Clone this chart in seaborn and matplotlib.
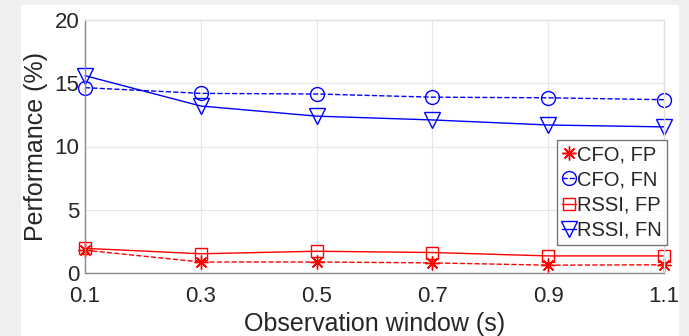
import matplotlib
matplotlib.use("Agg")
import matplotlib.pyplot as plt
import seaborn as sns
import pandas as pd
from matplotlib.patches import Rectangle

window = [0.1, 0.3, 0.5, 0.7, 0.9, 1.1]
cfo_fp = [1.8, 0.87, 0.87, 0.8, 0.62, 0.65]
cfo_fn = [14.65, 14.2, 14.15, 13.9, 13.85, 13.7]
rssi_fp = [1.95, 1.52, 1.72, 1.62, 1.35, 1.35]
rssi_fn = [15.6, 13.2, 12.4, 12.1, 11.7, 11.55]
x_ticks = [0.1, 0.3, 0.5, 0.7, 0.9, 1.1]
y_ticks = [0, 5, 10, 15, 20]

sns.set_theme(style="white")
plt.rcParams['font.family'] = ['Liberation Sans', 'DejaVu Sans']

fig = plt.figure(figsize=(6.89, 3.36), dpi=100)
fig.patch.set_facecolor('#eef0f0')
bg = Rectangle((21 / 689, 0), (679 - 21) / 689, (336 - 5) / 336,
               transform=fig.transFigure, facecolor='white',
               edgecolor='none', zorder=-10)
fig.patches.append(bg)
ax = fig.add_axes([85 / 689, (336 - 273) / 336, (664 - 85) / 689, (273 - 20) / 336])
ax.set_zorder(5)
ax.set_facecolor('white')

asterisk = (8, 2, 0)
series = [
    ("CFO, FP", cfo_fp, '#ff0000', asterisk, '--', 10),
    ("CFO, FN", cfo_fn, '#0000ff', 'o', '--', 10),
    ("RSSI, FP", rssi_fp, '#ff0000', 's', '-', 8),
    ("RSSI, FN", rssi_fn, '#0000ff', 'v', '-', 11),
]
for name, vals, col, mk, ls, ms in series:
    df = pd.DataFrame({"x": window, "y": vals})
    kw = {}
    if ls == '--':
        kw['dashes'] = (5, 3)
    sns.lineplot(data=df, x="x", y="y", ax=ax, color=col, marker=mk,
                 linestyle=ls, markersize=ms, markerfacecolor='none',
                 markeredgecolor=col, markeredgewidth=1.0, linewidth=1.0,
                 label=name, clip_on=False, **kw)

ax.set_xlim(0.1, 1.1)
ax.set_ylim(0, 20)
ax.set_xticks(x_ticks)
ax.set_xticklabels([f"{t:.1f}" for t in x_ticks])
ax.set_yticks(y_ticks)
ax.set_yticklabels([str(t) for t in y_ticks])
ax.grid(True, color='#e6e6e6', linewidth=0.8)
ax.set_axisbelow(True)
ax.tick_params(axis='both', labelsize=16, colors='#262626', direction='in',
               length=3)
ax.tick_params(axis='x', pad=9)
ax.tick_params(axis='y', pad=4)
ax.tick_params(axis='both', color='#8a8a8a')
for s in ['left', 'bottom']:
    ax.spines[s].set_color('#8a8a8a')
    ax.spines[s].set_linewidth(1.0)
for s in ['top', 'right']:
    ax.spines[s].set_color('#e0e0e0')
    ax.spines[s].set_linewidth(1.0)

ax.set_xlabel("Observation window (s)", fontsize=18, color='#262626', labelpad=4)
ax.set_ylabel("Performance (%)", fontsize=18, color='#262626', labelpad=5)

leg = ax.legend(loc='center right', bbox_to_anchor=(1.005, 0.318), fontsize=14.5,
                frameon=True, fancybox=False, handlelength=0.7,
                handletextpad=0.05, borderpad=0.25, labelspacing=0.3,
                borderaxespad=0.0)
leg.get_frame().set_edgecolor('#555555')
leg.get_frame().set_linewidth(1.0)

fig.savefig("out.png", dpi=100, facecolor=fig.get_facecolor())
